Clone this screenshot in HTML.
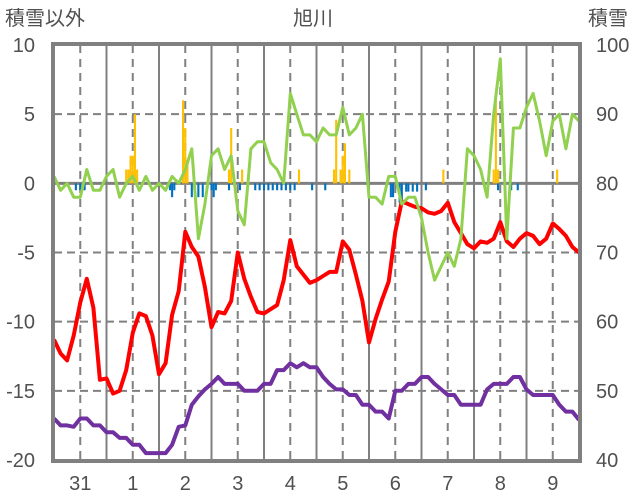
<!DOCTYPE html>
<html><head><meta charset="utf-8"><style>
body{margin:0;background:#fff}
svg{display:block}
text{font-family:"Liberation Sans","Noto Sans CJK JP",sans-serif;fill:#505050}
</style></head><body>
<svg id="c" width="636" height="501">
<text x="5" y="25" font-size="20">積雪以外</text>
<text x="313" y="25" font-size="20" text-anchor="middle">旭川</text>
<text x="588" y="25" font-size="20">積雪</text>
</svg>
<script>
const dayLabels=["31","1","2","3","4","5","6","7","8","9"];
const leftTicks=[10,5,0,-5,-10,-15,-20];
const rightTicks=[100,90,80,70,60,50,40];
const redVals=[-11.3,-12.3,-12.8,-11.0,-8.6,-6.9,-9.0,-14.2,-14.1,-15.2,-15.0,-13.5,-10.8,-9.4,-9.6,-11.0,-13.8,-13.0,-9.5,-7.8,-3.5,-4.6,-5.3,-7.5,-10.4,-9.3,-9.4,-8.5,-5.0,-6.9,-8.2,-9.3,-9.4,-9.1,-8.8,-7.0,-4.1,-6.0,-6.6,-7.2,-7.0,-6.7,-6.4,-6.4,-4.2,-4.8,-6.6,-8.5,-11.5,-9.8,-8.4,-7.1,-3.5,-1.3,-1.5,-1.7,-1.8,-2.1,-2.2,-2.0,-1.4,-2.8,-3.6,-4.4,-4.7,-4.2,-4.3,-4.0,-2.8,-4.2,-4.6,-4.0,-3.6,-3.8,-4.4,-4.0,-2.9,-3.3,-3.8,-4.6,-5.0];
const purpleVals=[-17.0,-17.5,-17.5,-17.6,-17.0,-17.0,-17.5,-17.5,-18.0,-18.0,-18.4,-18.4,-18.9,-18.9,-19.5,-19.5,-19.5,-19.5,-18.9,-17.6,-17.5,-16.0,-15.4,-14.9,-14.5,-14.0,-14.5,-14.5,-14.5,-15.0,-15.0,-15.0,-14.5,-14.5,-13.5,-13.5,-13.0,-13.3,-13.0,-13.3,-13.3,-14.0,-14.5,-14.9,-14.9,-15.3,-15.3,-16.0,-16.0,-16.5,-16.5,-17.0,-15.0,-15.0,-14.5,-14.5,-14.0,-14.0,-14.5,-14.9,-15.3,-15.3,-16.0,-16.0,-16.0,-16.0,-14.9,-14.5,-14.5,-14.5,-14.0,-14.0,-14.9,-15.3,-15.3,-15.3,-15.3,-16.0,-16.5,-16.5,-17.1];
const snowDepth=[81,79,80,78,78,82,79,79,81,82,78,80,81,79,81,79,80,79,81,80,82,85,72,77,84,85,82,84,76,74,85,86,86,83,82,80,93,90,87,87,86,88,87,87,91,87,88,90,78,78,77,81,81,77,78,78,75,70,66,68,70,68,72,85,84,82,78,90,98,72,88,88,91,93,89,84,89,90,85,90,89];
const snowfallHours=[33,34,35,36,37,38,59,60,61,80,81,86,112,128,129,131,132,133,135,178,201,202,203,230];
const snowfallVals=[1,1,2,2,5,1,6,4,1.5,1,4,1,1,1,4.6,1,2,2.9,1,1,1,6,1,1];
const dropHours=[10,12,14,53,54,55,63,66,68,72,73,74,80,85,92,94,96,98,100,102,104,106,108,110,118,124,154,155,158,159,161,162,164,166,170,203,209,212];
const dropVals=[-0.5,-0.5,-0.5,-0.5,-1,-0.5,-1,-1,-1,-0.5,-1,-0.5,-0.5,-0.5,-0.5,-0.5,-0.5,-0.5,-0.5,-0.5,-0.5,-0.5,-0.5,-0.5,-0.5,-0.5,-1,-1,-1.4,-1.4,-0.6,-0.6,-0.6,-0.6,-0.5,-0.5,-0.5,-0.5];

const svg=document.getElementById('c');
const NS='http://www.w3.org/2000/svg';
const X0=54,X1=579,Y0=45,Y1=460;
const xDay=d=>X0+(X1-X0)*d/10;
const yL=v=>Y0+(10-v)*(Y1-Y0)/30;
const yR=v=>Y0+(100-v)*(Y1-Y0)/60;
function mk(tag,attrs){const e=document.createElementNS(NS,tag);for(const k in attrs)e.setAttribute(k,attrs[k]);svg.appendChild(e);return e;}

leftTicks.forEach(v=>{
  if(v===10||v===-20)return;
  const g=mk('line',{x1:X0,x2:X1,y1:yL(v),y2:yL(v),stroke:'#808080','stroke-width':v===0?3:2,'stroke-dasharray':v===0?'none':'8,5'});
  
  
});
for(let d=0;d<10;d++){
  const g=mk('line',{x1:xDay(d+0.5),x2:xDay(d+0.5),y1:Y0,y2:Y1,stroke:'#808080','stroke-width':2,'stroke-dasharray':'8,6'});
  
  
  if(d>0){
    const s=mk('line',{x1:xDay(d),x2:xDay(d),y1:Y0,y2:Y1,stroke:'#808080','stroke-width':2});
    
    
  }
  const t=mk('text',{x:xDay(d+0.5),y:490,'font-size':20,'text-anchor':'middle'});
  t.textContent=dayLabels[d];
  
  
}
leftTicks.forEach(v=>{
  const t=mk('text',{x:35,y:yL(v)+7,'font-size':20,'text-anchor':'end'});
  t.textContent=v;
  
  
});
rightTicks.forEach(v=>{
  const t=mk('text',{x:596,y:yR(v)+7,'font-size':20});
  t.textContent=v;
  
  
});
const bw=2.1;
snowfallHours.forEach((h,i)=>{
  const x=xDay(h/24);
  const b=mk('rect',{x:x-bw/2,y:yL(snowfallVals[i]),width:bw,height:yL(0)-yL(snowfallVals[i]),fill:'#ffc000'});
  
  
});
dropHours.forEach((h,i)=>{
  const x=xDay(h/24);
  const b=mk('rect',{x:x-bw/2,y:yL(0),width:bw,height:yL(dropVals[i])-yL(0),fill:'#0070c0'});
  
  
});
function line(vals,yf,color,w,name){
  const n=vals.length-1;
  const pts=vals.map((v,i)=>xDay(10*i/n).toFixed(1)+','+yf(v).toFixed(1)).join(' ');
  const p=mk('polyline',{points:pts,fill:'none',stroke:color,'stroke-width':w,'stroke-linejoin':'round'});
  
  
}
line(redVals,yL,'#ff0000',4,'red-series-line');
line(purpleVals,yL,'#7030a0',4,'purple-series-line');
line(snowDepth,yR,'#92d050',3,'snow-depth-line');
const br=mk('rect',{x:X0-1,y:Y0-1,width:X1-X0+2,height:Y1-Y0+2,fill:'none',stroke:'#808080','stroke-width':4});


</script>
</body></html>
